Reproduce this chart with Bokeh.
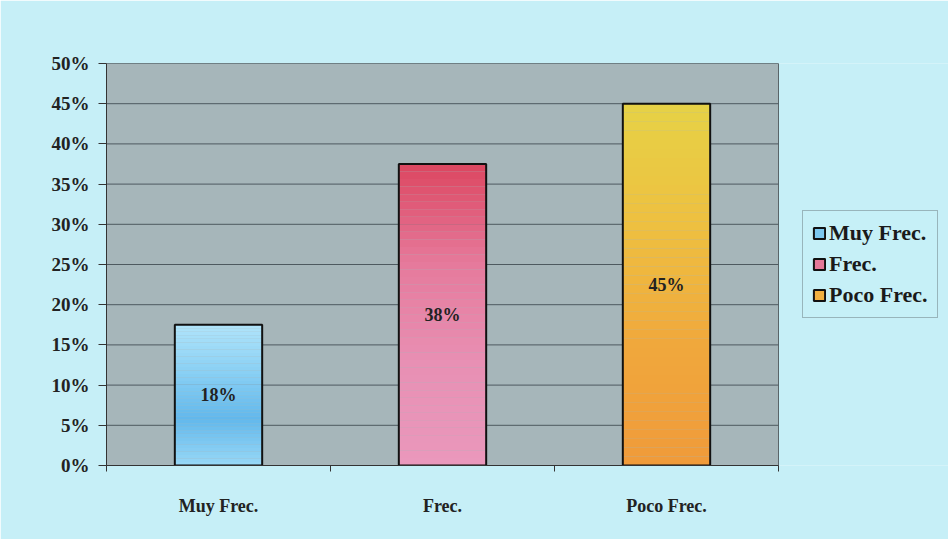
from bokeh.plotting import figure
from bokeh.models import FixedTicker, NumeralTickFormatter, Legend, LegendItem, ColumnDataSource, Range1d
from bokeh.embed import file_html
from bokeh.resources import INLINE
import numpy as np

categories = ["Muy Frec.", "Frec.", "Poco Frec."]
values = [0.175, 0.375, 0.45]
value_labels = ["18%", "38%", "45%"]
y_ticks = [0.0, 0.05, 0.10, 0.15, 0.20, 0.25, 0.30, 0.35, 0.40, 0.45, 0.50]

# colour stops bottom -> top for each bar
stops = [
    ["#98d8f6", "#62b8ec", "#8ad0f4", "#b0e4fa"],
    ["#ea98bc", "#e890b4", "#e67a9c", "#dc4660"],
    ["#f09a3a", "#f0a83c", "#eec040", "#e6d246"],
]
legend_colors = ["#7cc8f0", "#e47898", "#f0b040"]

BG = "#c6eff7"
PLOT_BG = "#a6b6ba"
FONT = "Liberation Serif"

FW = 842          # frame width in px (plot area + legend area)
PW = 672          # width of the grey plot area in px
ncat = len(categories)

p = figure(frame_width=FW, frame_height=402, output_backend="svg", toolbar_location=None,
           x_range=Range1d(0, ncat * FW / PW), y_range=Range1d(0, y_ticks[-1]),
           min_border_left=106, min_border_right=0, min_border_top=63, min_border_bottom=74)
p.background_fill_color = BG
p.border_fill_color = BG
p.outline_line_color = None

# grey plot area
p.quad(left=[0], right=[ncat], bottom=[y_ticks[0]], top=[y_ticks[-1]],
       fill_color=PLOT_BG, line_color="#5a6468", line_width=1)
# horizontal grid lines
p.segment(x0=[0] * len(y_ticks), x1=[ncat] * len(y_ticks), y0=y_ticks, y1=y_ticks,
          line_color="#4e5a60", line_width=1)

def hex2rgb(h):
    return np.array([int(h[i:i + 2], 16) for i in (1, 3, 5)], dtype=float)

N = 40
xs = [i + 0.5 for i in range(ncat)]
bw = 0.39
for i, (x, v) in enumerate(zip(xs, values)):
    cs = [hex2rgb(c) for c in stops[i]]
    fr = np.linspace(0, 1, len(cs))
    bottoms, tops, cols = [], [], []
    for k in range(N):
        t = (k + 0.5) / N
        rgb = [np.interp(t, fr, [c[j] for c in cs]) for j in range(3)]
        cols.append("#%02x%02x%02x" % tuple(int(round(c)) for c in rgb))
        bottoms.append(v * k / N)
        tops.append(v * (k + 1) / N)
    src = ColumnDataSource(dict(x=[x] * N, b=bottoms, t=tops, c=cols))
    p.vbar(x="x", bottom="b", top="t", width=bw, fill_color="c", line_color=None, source=src)

for i, (x, v) in enumerate(zip(xs, values)):
    p.vbar(x=[x], top=[v], width=bw, fill_color=None, line_color="#111111", line_width=2)

lab_src = ColumnDataSource(dict(x=xs, y=[v * 0.5 for v in values], t=value_labels))
p.text(x="x", y="y", text="t", source=lab_src, text_align="center", text_baseline="middle",
       text_font_size="18px", text_font_style="bold", text_color="#222222", text_font=FONT)

# legend swatches: off-screen quads, used only by the legend
leg_r = []
for c in legend_colors:
    r = p.quad(left=[-10], right=[-9], bottom=[-10], top=[-9], fill_color=c,
               line_color="#111111", line_width=2)
    leg_r.append(r)
legend = Legend(items=[LegendItem(label=cat, renderers=[r]) for cat, r in zip(categories, leg_r)],
                location=(PW + 24, 147))
legend.background_fill_color = BG
legend.border_line_color = "#6a7a80"
legend.border_line_width = 1
legend.label_text_font = FONT
legend.label_text_font_style = "bold"
legend.label_text_font_size = "22px"
legend.label_text_color = "#1a1a1a"
legend.glyph_width = 14
legend.glyph_height = 14
legend.label_standoff = 3
legend.spacing = 5
legend.padding = 9
legend.margin = 0
p.add_layout(legend)

p.xgrid.grid_line_color = None
p.ygrid.grid_line_color = None

p.yaxis.ticker = FixedTicker(ticks=y_ticks)
p.yaxis.formatter = NumeralTickFormatter(format="0%")
p.yaxis.major_label_text_font = FONT
p.yaxis.major_label_text_font_style = "bold"
p.yaxis.major_label_text_font_size = "19px"
p.yaxis.major_label_text_color = "#222222"
p.yaxis.axis_line_color = "#333333"
p.yaxis.major_tick_line_color = "#333333"
p.yaxis.major_tick_out = 8
p.yaxis.major_tick_in = 0
p.yaxis.minor_tick_line_color = None
p.yaxis.major_label_standoff = 9

p.xaxis.bounds = (0, ncat)
p.xaxis.ticker = FixedTicker(ticks=xs, minor_ticks=list(range(ncat + 1)))
p.xaxis.major_label_overrides = {x: c for x, c in zip(xs, categories)}
p.xaxis.major_tick_line_color = None
p.xaxis.minor_tick_line_color = "#333333"
p.xaxis.minor_tick_out = 6
p.xaxis.minor_tick_in = 0
p.xaxis.axis_line_color = "#333333"
p.xaxis.major_label_text_font = FONT
p.xaxis.major_label_text_font_style = "bold"
p.xaxis.major_label_text_font_size = "18px"
p.xaxis.major_label_text_color = "#222222"
p.xaxis.major_label_standoff = 24

open("out.html", "w").write(file_html(p, INLINE))
